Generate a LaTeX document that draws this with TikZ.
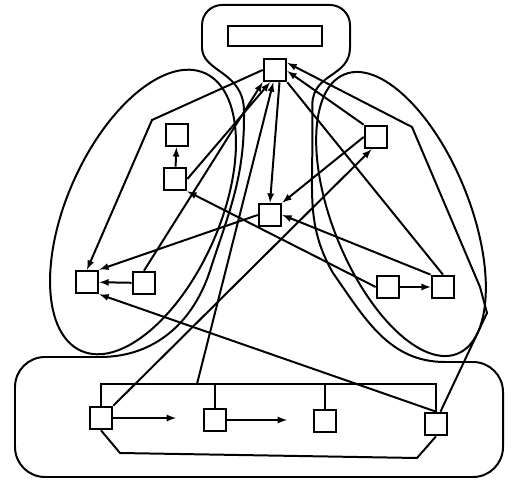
\documentclass[tikz,border=0pt]{standalone}
\usetikzlibrary{calc}

\begin{document}
\begin{tikzpicture}[line width=1.7pt, >=latex,
		box/.style={draw, minimum size=0.68cm, inner sep=0pt}]
			\useasboundingbox (0,0) rectangle (15.39,14.52);
			
			% outer frame: bottom tray, the two bands and the cap on top
			\draw (3.0,3.81) -- (1.35,3.81) arc[start angle=90,end angle=180,radius=0.9]
				-- (0.45,1.11) arc[start angle=180,end angle=270,radius=0.9]
				-- (14.19,0.21) arc[start angle=270,end angle=360,radius=0.9]
				-- (15.09,2.76) arc[start angle=0,end angle=90,radius=0.9]
				-- (13.35,3.66) to[out=180,in=-55] (9.99,6.33) to[out=120,in=-90] (9.37,10.2)
				-- (9.37,11.4) .. controls (9.4,12.35) and (10.5,12.2) .. (10.5,13.1)
				-- (10.5,13.77) arc[start angle=0,end angle=90,radius=0.6]
				-- (6.66,14.37) arc[start angle=90,end angle=180,radius=0.6]
				-- (6.06,13.1) .. controls (6.06,12.35) and (7.3,12.4) .. (7.32,11.2)
				-- (7.32,11.0) to[out=-90,in=72] (6.3,6.4) to[out=-108,in=0] (3.0,3.81) -- cycle;
			
			% side lobes
			\draw[rotate around={66:(4.29,8.16)}] (4.29,8.16) ellipse (4.56 and 2.28);
			\draw[rotate around={-68:(12.03,8.1)}] (12.03,8.1) ellipse (4.52 and 2.05);
			
			\node[draw, minimum width=2.82cm, minimum height=0.6cm] (bar) at (8.25,13.44) {};
			\node[box] (hub) at (8.25,12.42) {};
			
			\node[box] (a1) at (5.31,10.47) {};
			\node[box] (a2) at (5.25,9.15) {};
			\node[box] (a3) at (2.61,6.06) {};
			\node[box] (a4) at (4.32,6.03) {};
			\node[box] (c) at (8.10,8.07) {};
			\node[box] (b1) at (11.28,10.41) {};
			\node[box] (b2) at (11.64,5.91) {};
			\node[box] (b3) at (13.29,5.91) {};
			\node[box] (d1) at (3.03,1.98) {};
			\node[box] (d2) at (6.45,1.92) {};
			\node[box] (d3) at (9.75,1.89) {};
			\node[box] (d4) at (13.08,1.80) {};
			
			\coordinate (kink) at (4.56,10.92);
			\coordinate (r1) at (12.36,10.71);
			\coordinate (r2) at (14.40,5.91);
			\coordinate (r3) at (14.61,5.13);
			\coordinate (tap) at (5.91,3.0);
			\coordinate (e1) at (5.28,1.98);
			\coordinate (e2) at (8.61,1.92);
			\coordinate (p1) at (3.6,0.93);
			\coordinate (p2) at (12.51,0.78);
			
			% bus and hull along the bottom
			\draw (d1.north) -- (d1.north |- tap) -- (d4.north |- tap) -- (d4.north);
			\draw (d2.north) -- (d2.north |- tap);
			\draw (d3.north) -- (d3.north |- tap);
			\draw (d1.south) -- (p1) -- (p2) -- (d4.south);
			\draw[->] (d1) -- (e1);
			\draw[->] (d2) -- (e2);
			
			% links
			\draw[->] (hub.west) -- (kink) -- (a3.north);
			\draw[->] (a2.east) -- (hub.-112);
			\draw[->] (a4.north) -- (hub.south west);
			\draw[->] (tap) -- (hub.-98);
			\draw[->] (hub.-70) -- (c.north);
			\draw[->] (b1.north west) -- (hub.-5);
			\draw (hub.south east) -- (b3.north);
			\draw[->] (d4.70) -- (r3) -- (r2) -- (r1) -- (hub.30);
			\draw[->] (d1.north east) -- (b1.-110);
			\draw[->] (b1.west) -- (c.north east);
			\draw[->] (b3.north west) -- (c.east);
			\draw[->] (b2.west) -- (a2.south east);
			\draw[->] (c.west) -- (a3.north east);
			\draw[->] (d4.north) -- (a3.south east);
			\draw[->] (a4) -- (a3);
			\draw[->] (a2) -- (a1);
			\draw[->] (b2) -- (b3);
		\end{tikzpicture}
\end{document}
